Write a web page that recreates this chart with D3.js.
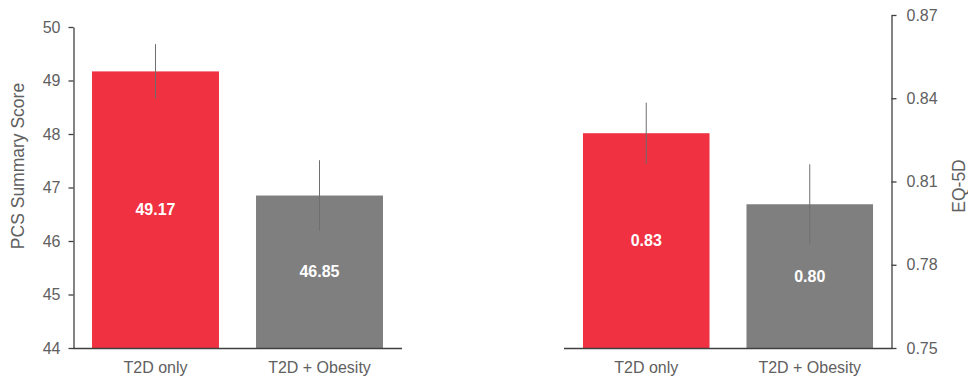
<!DOCTYPE html>
<html><head><meta charset="utf-8">
<script src="https://cdn.jsdelivr.net/npm/d3@7"></script>
<style>body{margin:0;background:#fff}svg{display:block;font-family:"Liberation Sans",Arial,sans-serif}</style>
</head><body><svg id="c" width="968" height="377"></svg>
<script>
const categories = ["T2D only", "T2D + Obesity"];
const pcsValues = [49.17, 46.85];
const pcsErrors = [0.51, 0.66];
const pcsLabels = ["49.17", "46.85"];
const pcsTicks = [44, 45, 46, 47, 48, 49, 50];
const eqValues = [0.8274, 0.8018];
const eqErrors = [0.011, 0.0144];
const eqLabels = ["0.83", "0.80"];
const eqTicks = [0.75, 0.78, 0.81, 0.84, 0.87];
const barColors = ["#F03141", "#7F7F7F"];

const svg = d3.select("#c");
const textColor = "#606060", axisColor = "#404040";

function panel(o) {
  const g = svg.append("g");
  const x = d3.scaleBand().domain(categories).range([o.x0, o.x1]).paddingInner(o.pin).paddingOuter(o.pout);
  const y = d3.scaleLinear().domain(o.domain).range([o.yb, o.yt]);
  g.selectAll("rect.bar").data(o.values).join("rect")
    .attr("x", (d, i) => x(categories[i])).attr("width", x.bandwidth())
    .attr("y", d => y(d)).attr("height", d => y(o.domain[0]) - y(d))
    .attr("fill", (d, i) => barColors[i]);
  g.selectAll("line.err").data(o.values).join("line")
    .attr("x1", (d, i) => x(categories[i]) + x.bandwidth() / 2)
    .attr("x2", (d, i) => x(categories[i]) + x.bandwidth() / 2)
    .attr("y1", (d, i) => y(d + o.errors[i])).attr("y2", (d, i) => y(d - o.errors[i]))
    .attr("stroke", "#6f6f6f").attr("stroke-width", 1);
  g.selectAll("text.val").data(o.values).join("text")
    .attr("x", (d, i) => x(categories[i]) + x.bandwidth() / 2)
    .attr("y", d => (y(d) + y(o.domain[0])) / 2)
    .attr("dy", "0.35em").attr("text-anchor", "middle")
    .attr("fill", "#fff").attr("font-weight", "bold").attr("font-size", 16)
    .text((d, i) => o.labels[i]);
  g.append("line").attr("x1", o.bx0).attr("x2", o.bx1).attr("y1", o.yb + 0.5).attr("y2", o.yb + 0.5)
    .attr("stroke", axisColor).attr("stroke-width", 1.3);
  g.selectAll("text.cat").data(categories).join("text")
    .attr("x", d => x(d) + x.bandwidth() / 2).attr("y", o.yb + 19)
    .attr("dy", "0.35em").attr("text-anchor", "middle")
    .attr("fill", textColor).attr("font-size", 16).text(d => d);
  const ax = (o.side === "left" ? d3.axisLeft(y) : d3.axisRight(y))
    .tickValues(o.ticks).tickSize(5).tickPadding(o.tpad).tickSizeOuter(0).tickFormat(o.fmt);
  const ag = g.append("g").attr("transform", `translate(${o.ax},0)`).call(ax);
  ag.select(".domain").attr("stroke", axisColor).attr("stroke-width", 1.3);
  ag.selectAll(".tick line").attr("stroke", axisColor).attr("stroke-width", 1.3);
  ag.selectAll(".tick text").attr("fill", textColor).attr("font-size", 16)
    .attr("font-family", '"Liberation Sans",Arial,sans-serif');
  g.append("text").attr("transform", `translate(${o.lx},${o.ly}) rotate(-90)`)
    .attr("text-anchor", "middle").attr("dy", "0.35em")
    .attr("fill", textColor).attr("font-size", 17.5).text(o.title);
}

panel({x0: 73, x1: 402, pin: 0.226, pout: 0.116, domain: [44, 50], yb: 348, yt: 27,
  values: pcsValues, errors: pcsErrors, labels: pcsLabels, ticks: pcsTicks,
  bx0: 73, bx1: 402, ax: 73.5, side: "left", tpad: 8, fmt: d3.format("d"),
  lx: 17.5, ly: 166, title: "PCS Summary Score"});

panel({x0: 564, x1: 892, pin: 0.226, pout: 0.116, domain: [0.75, 0.87], yb: 348, yt: 15,
  values: eqValues, errors: eqErrors, labels: eqLabels, ticks: eqTicks,
  bx0: 564, bx1: 892, ax: 891.5, side: "right", tpad: 10, fmt: d3.format(".2f"),
  lx: 959, ly: 186, title: "EQ-5D"});
</script></body></html>
